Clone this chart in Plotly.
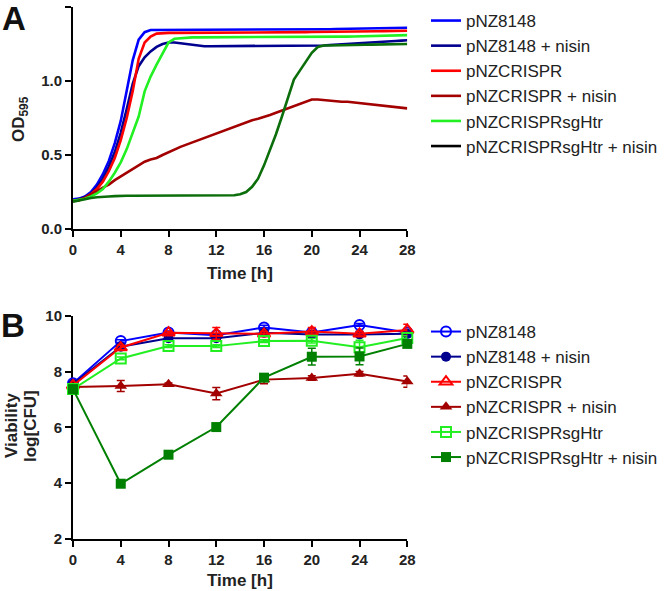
import plotly.graph_objects as go

# ---------------- Panel A: growth curves (OD595) ----------------
time_a = [i * 0.5 for i in range(57)]  # 0 .. 28 h

od_pnz8148 = [0.20, 0.205, 0.22, 0.25, 0.30, 0.37, 0.46, 0.58, 0.73, 0.93, 1.14, 1.28, 1.33, 1.345, 1.345,
              1.345, 1.345, 1.345, 1.345, 1.345, 1.345, 1.345, 1.345, 1.345, 1.345, 1.345, 1.345, 1.345,
              1.345, 1.345, 1.345, 1.345, 1.345, 1.345, 1.345, 1.345, 1.345, 1.345, 1.345, 1.345, 1.347,
              1.348, 1.349, 1.35, 1.351, 1.352, 1.353, 1.354, 1.355, 1.356, 1.357, 1.358, 1.358, 1.359,
              1.36, 1.36, 1.36]
od_pnz8148_nisin = [0.19, 0.20, 0.215, 0.24, 0.28, 0.34, 0.42, 0.52, 0.65, 0.81, 0.98, 1.10, 1.16, 1.20,
                    1.23, 1.25, 1.26, 1.26, 1.255, 1.245, 1.24, 1.235, 1.235, 1.235, 1.235, 1.235, 1.235,
                    1.235, 1.235, 1.235, 1.235, 1.235, 1.235, 1.235, 1.235, 1.235, 1.235, 1.235, 1.235, 1.235,
                    1.235, 1.238, 1.24, 1.243, 1.245, 1.248, 1.25, 1.253, 1.255, 1.258, 1.26, 1.263, 1.265,
                    1.268, 1.27, 1.273, 1.275]
od_pnzcrispr = [0.19, 0.195, 0.21, 0.235, 0.27, 0.32, 0.39, 0.48, 0.60, 0.75, 0.93, 1.15, 1.26, 1.30, 1.32,
                1.325, 1.325, 1.325, 1.325, 1.325, 1.325, 1.325, 1.325, 1.325, 1.325, 1.325, 1.325, 1.325,
                1.325, 1.325, 1.325, 1.325, 1.327, 1.327, 1.328, 1.328, 1.329, 1.329, 1.33, 1.33, 1.331,
                1.331, 1.332, 1.332, 1.333, 1.333, 1.334, 1.334, 1.335, 1.335, 1.336, 1.336, 1.337, 1.338,
                1.338, 1.339, 1.34]
od_pnzcrispr_nisin = [0.19, 0.195, 0.21, 0.23, 0.255, 0.28, 0.30, 0.33, 0.355, 0.38, 0.40, 0.43, 0.455,
                      0.47, 0.48, 0.50, 0.52, 0.54, 0.555, 0.57, 0.585, 0.60, 0.615, 0.63, 0.645, 0.665,
                      0.68, 0.695, 0.71, 0.72, 0.735, 0.745, 0.755, 0.77, 0.785, 0.80, 0.815, 0.835, 0.85,
                      0.865, 0.875, 0.875, 0.87, 0.87, 0.865, 0.86, 0.86, 0.855, 0.85, 0.845, 0.84, 0.835,
                      0.83, 0.83, 0.825, 0.82, 0.815]
od_sghtr = [0.19, 0.195, 0.205, 0.22, 0.24, 0.27, 0.32, 0.38, 0.45, 0.54, 0.65, 0.76, 0.93, 1.03, 1.11,
            1.19, 1.26, 1.285, 1.29, 1.292, 1.295, 1.295, 1.295, 1.295, 1.295, 1.295, 1.295, 1.295, 1.295,
            1.295, 1.295, 1.295, 1.295, 1.295, 1.295, 1.295, 1.295, 1.295, 1.296, 1.296, 1.297, 1.297,
            1.298, 1.298, 1.299, 1.30, 1.30, 1.301, 1.302, 1.303, 1.304, 1.305, 1.306, 1.307, 1.308,
            1.309, 1.31]
od_sghtr_nisin = [0.185, 0.195, 0.205, 0.21, 0.215, 0.22, 0.22, 0.222, 0.225, 0.225, 0.225, 0.225, 0.225,
                  0.225, 0.225, 0.225, 0.225, 0.225, 0.225, 0.225, 0.225, 0.225, 0.225, 0.225, 0.225, 0.225,
                  0.226, 0.228, 0.235, 0.25, 0.285, 0.34, 0.43, 0.53, 0.64, 0.76, 0.89, 1.01, 1.07, 1.13,
                  1.19, 1.23, 1.24, 1.24, 1.24, 1.241, 1.242, 1.243, 1.244, 1.245, 1.246, 1.247, 1.248,
                  1.248, 1.249, 1.25, 1.25]

# ---------------- Panel B: viability log[CFU] ----------------
time_b = [0, 4, 8, 12, 16, 20, 24, 28]

cfu_pnz8148 = [7.58, 9.09, 9.40, 9.30, 9.58, 9.40, 9.67, 9.40]
cfu_pnz8148_err = [0.05, 0.05, 0.05, 0.05, 0.08, 0.05, 0.05, 0.05]
cfu_pnz8148_nisin = [7.55, 8.89, 9.19, 9.19, 9.39, 9.33, 9.33, 9.35]
cfu_pnz8148_nisin_err = [0.05, 0.05, 0.05, 0.05, 0.05, 0.05, 0.05, 0.05]
cfu_pnzcrispr = [7.50, 8.86, 9.39, 9.37, 9.35, 9.43, 9.35, 9.49]
cfu_pnzcrispr_err = [0.05, 0.08, 0.05, 0.21, 0.08, 0.15, 0.08, 0.2]
cfu_pnzcrispr_nisin = [7.45, 7.48, 7.54, 7.21, 7.71, 7.77, 7.92, 7.64]
cfu_pnzcrispr_nisin_err = [0.05, 0.2, 0.05, 0.22, 0.15, 0.08, 0.08, 0.2]
cfu_sghtr = [7.37, 8.47, 8.91, 8.91, 9.09, 9.10, 8.87, 9.20]
cfu_sghtr_err = [0.05, 0.05, 0.05, 0.05, 0.05, 0.08, 0.25, 0.08]
cfu_sghtr_nisin = [7.37, 3.98, 5.02, 6.01, 7.78, 8.53, 8.54, 8.99]
cfu_sghtr_nisin_err = [0.05, 0.05, 0.05, 0.05, 0.1, 0.3, 0.3, 0.08]

names = ["pNZ8148", "pNZ8148 + nisin", "pNZCRISPR", "pNZCRISPR + nisin",
         "pNZCRISPRsgHtr", "pNZCRISPRsgHtr + nisin"]
x_ticks = [0, 4, 8, 12, 16, 20, 24, 28]

# styles
FONT = "Liberation Sans, Arial, Helvetica, sans-serif"
col_a = ["#0000FF", "#00008F", "#FF0000", "#A30000", "#22F022", "#0B6E0B"]
col_b = ["#0000FF", "#00008F", "#FF0000", "#A30000", "#22EE22", "#008000"]
sym_b = ["circle-open", "circle", "triangle-up-open", "triangle-up", "square-open", "square"]

W, H = 666, 591
x_dom = [73 / W, 407.3 / W]
ya_dom = [(H - 229) / H, (H - 7) / H]
yb_dom = [(H - 539) / H, (H - 315.7) / H]

fig = go.Figure()

series_a = [od_pnz8148, od_pnz8148_nisin, od_pnzcrispr, od_pnzcrispr_nisin, od_sghtr, od_sghtr_nisin]
for i, ys in enumerate(series_a):
    fig.add_trace(go.Scatter(
        x=time_a, y=ys, mode="lines", name=names[i],
        line=dict(color=col_a[i], width=2.6),
        xaxis="x", yaxis="y", legend="legend",
        showlegend=(i != 5),
    ))
# legend entry for last series in panel A is drawn in black in the reference
fig.add_trace(go.Scatter(
    x=[None], y=[None], mode="lines", name=names[5],
    line=dict(color="#000000", width=2.6), xaxis="x", yaxis="y", legend="legend",
))

series_b = [(cfu_pnz8148, cfu_pnz8148_err), (cfu_pnz8148_nisin, cfu_pnz8148_nisin_err),
            (cfu_pnzcrispr, cfu_pnzcrispr_err), (cfu_pnzcrispr_nisin, cfu_pnzcrispr_nisin_err),
            (cfu_sghtr, cfu_sghtr_err), (cfu_sghtr_nisin, cfu_sghtr_nisin_err)]
for i in range(6):
    ys, es = series_b[i]
    open_m = sym_b[i].endswith("open")
    fig.add_trace(go.Scatter(
        x=time_b, y=ys, mode="lines+markers", name=names[i],
        line=dict(color=col_b[i], width=2),
        marker=dict(symbol=sym_b[i], size=10 if "triangle" not in sym_b[i] else 11,
                    color=col_b[i], line=dict(color=col_b[i], width=2 if open_m else 0)),
        error_y=dict(type="data", array=es, visible=True, color=col_b[i], thickness=1.5, width=4),
        xaxis="x2", yaxis="y2", legend="legend2", cliponaxis=False,
    ))

axis_common = dict(showline=True, linecolor="black", linewidth=2, ticks="outside", ticklen=6,
                   tickwidth=2, tickcolor="black", showgrid=False, zeroline=False,
                   tickfont=dict(family=FONT, size=15, color="#222222", weight="bold"),
                   layer="below traces", automargin=False)

fig.update_layout(
    width=W, height=H, margin=dict(l=0, r=0, t=0, b=0, autoexpand=False),
    paper_bgcolor="white", plot_bgcolor="white",
    xaxis=dict(domain=x_dom, range=[0, 28], tickvals=x_ticks, anchor="y", **axis_common),
    yaxis=dict(domain=ya_dom, range=[0, 1.5], tickvals=[0, 0.5, 1.0, 1.5], tickformat=".1f",
               anchor="x", **axis_common),
    xaxis2=dict(domain=x_dom, range=[0, 28], tickvals=x_ticks, anchor="y2", **axis_common),
    yaxis2=dict(domain=yb_dom, range=[2, 10], tickvals=[2, 4, 6, 8, 10], anchor="x2", **axis_common),
    legend=dict(x=426 / W, xanchor="left", y=(H - 3) / H, yanchor="top",
                font=dict(family=FONT, size=17, color="#222222"), bgcolor="rgba(0,0,0,0)"),
    legend2=dict(x=426 / W, xanchor="left", y=(H - 314) / H, yanchor="top",
                 font=dict(family=FONT, size=17, color="#222222"), bgcolor="rgba(0,0,0,0)"),
    showlegend=True,
)

bold = dict(family=FONT, size=17, color="#222222", weight="bold")


def ann(text, x, y, font, angle=0):
    fig.add_annotation(text=text, x=x / W, y=(H - y) / H, xref="paper", yref="paper",
                       showarrow=False, textangle=angle, font=font, xanchor="center", yanchor="middle")


ann("A", 14, 19, dict(family=FONT, size=33, color="#111111", weight="bold"))
ann("B", 13, 325, dict(family=FONT, size=33, color="#111111", weight="bold"))
ann("OD<sub>595</sub>", 20, 119, bold, -90)
ann("Viability", 12, 426, bold, -90)
ann("log[CFU]", 31, 426, bold, -90)
ann("Time [h]", 240, 273, bold)
ann("Time [h]", 240, 580, bold)

fig.write_html("out.html", config={"displayModeBar": False},
               post_script="document.body.style.margin='0px';document.body.style.padding='0px';")
